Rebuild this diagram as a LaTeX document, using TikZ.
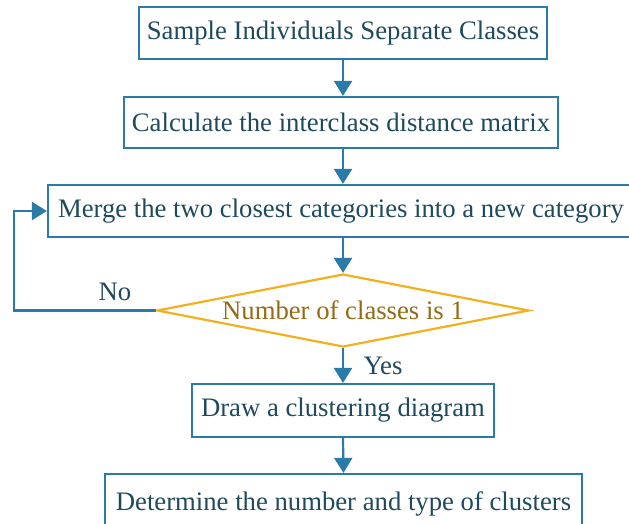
\documentclass[tikz,border=0pt]{standalone}
\usepackage{fontspec}
\setmainfont{Liberation Serif}
\usetikzlibrary{arrows.meta,shapes.geometric}
\definecolor{lineblue}{HTML}{2A7BA8}
\definecolor{txtblue}{HTML}{1E4A5C}
\definecolor{dorange}{HTML}{F2B01E}
\definecolor{dtext}{HTML}{946A14}
\tikzset{
  txtfont/.style={font=\fontsize{26.7pt}{31pt}\selectfont},
  box/.style={draw=lineblue, line width=2.2pt, rectangle, inner sep=0pt, text=txtblue, txtfont},
  arr/.style={draw=lineblue, line width=2.2pt, -{Triangle[width=18pt,length=15pt]}},
  lbl/.style={text=txtblue, txtfont, inner sep=0pt}
}
\begin{document}
\begin{tikzpicture}[x=1pt,y=-1pt]
\useasboundingbox (0,0) rectangle (629,524);
\node[box, minimum width=408pt, minimum height=52pt] (b1) at (343,33) {Sample Individuals Separate Classes};
\node[box, minimum width=434pt, minimum height=51pt] (b2) at (341,122.5) {Calculate the interclass distance matrix};
\node[box, minimum width=586pt, minimum height=52pt] (b3) at (341,211) {Merge the two closest categories into a new category};
\node[draw=dorange, line width=2.2pt, diamond, aspect=5.1, inner sep=0pt, minimum width=372pt, minimum height=73pt, text=dtext, txtfont] (d) at (343,310.5) {Number of classes is 1};
\node[box, minimum width=302pt, minimum height=53pt] (b5) at (343,410.5) {Draw a clustering diagram};
\node[box, minimum width=477pt, minimum height=60pt] (b6) at (343.5,504) {Determine the number and type of clusters};
\coordinate (lc) at (14,310.5);
\draw[arr] (b1.south) -- (b1.south |- b2.north);
\draw[arr] (b1.south |- b2.south) -- (b1.south |- b3.north);
\draw[arr] (b3.south -| d.north) -- (d.north);
\draw[arr] (d.south) -- (b5.north);
\draw[arr] (b5.south) -- (b6.north);
\draw[arr] (d.west) -- (lc) |- (b3.west);
\node[lbl] (no) at (115,292) {No};
\node[lbl] (yes) at (383,366) {Yes};
\end{tikzpicture}
\end{document}
